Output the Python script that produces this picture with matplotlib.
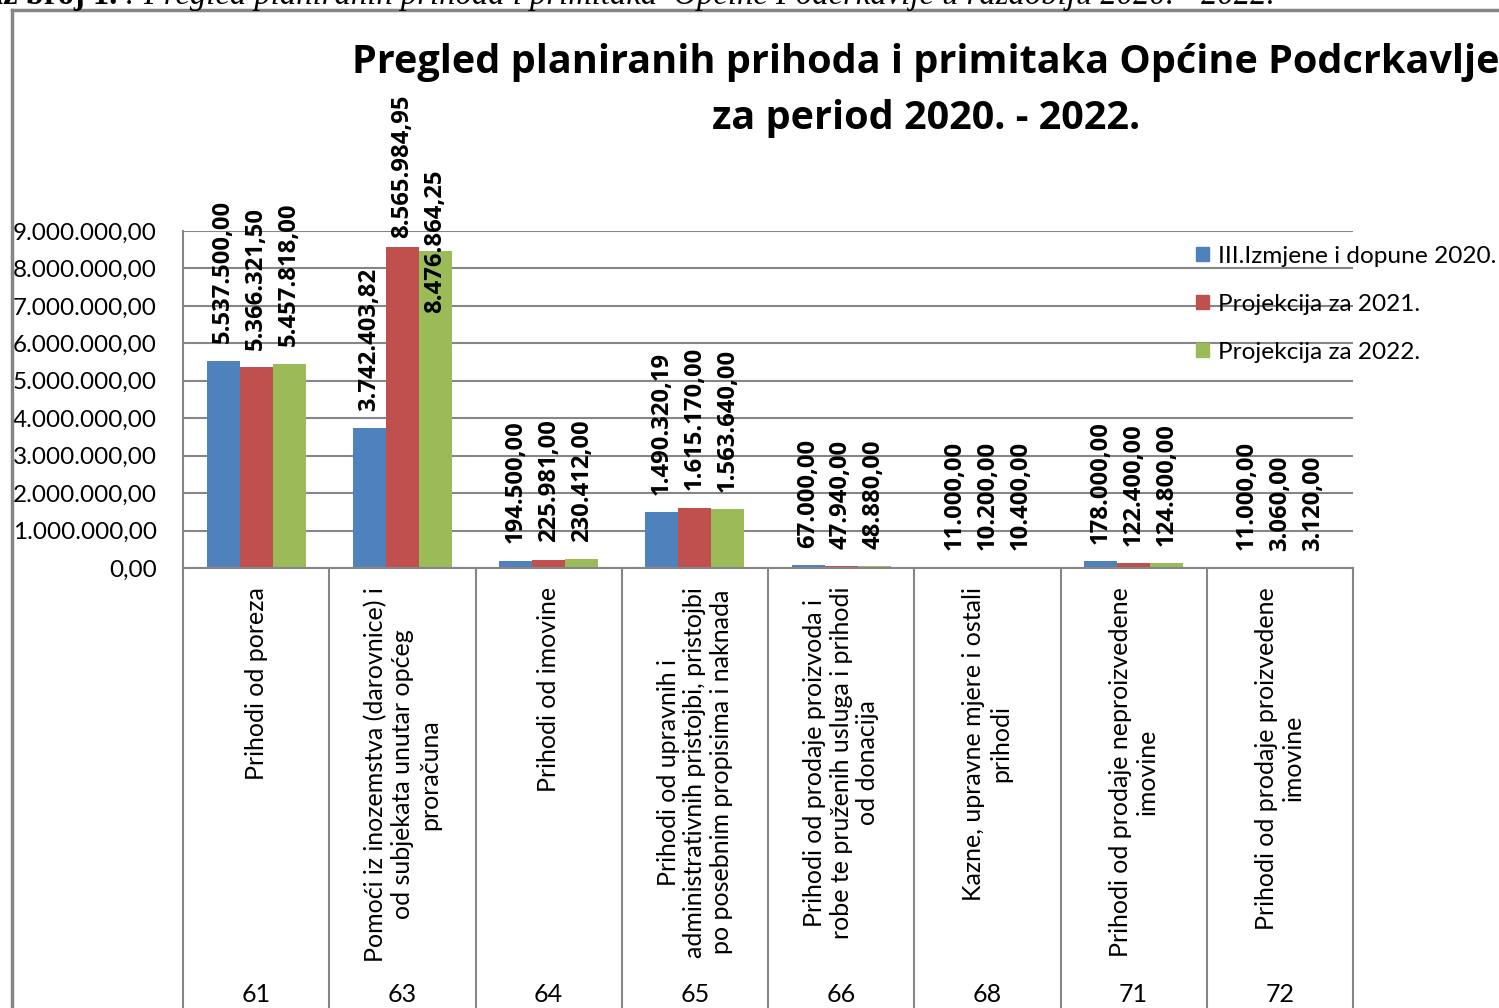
import numpy as np
import matplotlib
matplotlib.use("Agg")
import matplotlib.pyplot as plt
from matplotlib.patches import Patch
from matplotlib.ticker import FuncFormatter

# Data

codes = ["61", "63", "64", "65", "66", "68", "71", "72"]
categories = [
    "Prihodi od poreza",
    "Pomoći iz inozemstva (darovnice) i\nod subjekata unutar općeg\nproračuna",
    "Prihodi od imovine",
    "Prihodi od upravnih i\nadministrativnih pristojbi, pristojbi\npo posebnim propisima i naknada",
    "Prihodi od prodaje proizvoda i\nrobe te pruženih usluga i prihodi\nod donacija",
    "Kazne, upravne mjere i ostali\nprihodi",
    "Prihodi od prodaje neproizvedene\nimovine",
    "Prihodi od prodaje proizvedene\nimovine",
]
series_names = ["III.Izmjene i dopune 2020.", "Projekcija za 2021.", "Projekcija za 2022."]
plan_2020 = [5537500.00, 3742403.82, 194500.00, 1490320.19, 67000.00, 11000.00, 178000.00, 11000.00]
proj_2021 = [5366321.50, 8565984.95, 225981.00, 1615170.00, 47940.00, 10200.00, 122400.00, 3060.00]
proj_2022 = [5457818.00, 8476864.25, 230412.00, 1563640.00, 48880.00, 10400.00, 124800.00, 3120.00]
yticks = np.arange(0, 9000001, 1000000)

colors = ["#4F81BD", "#C0504D", "#9BBB59"]
grid_c = "#868686"
bold_font = ["Open Sans", "DejaVu Sans"]

plt.rcParams['font.family'] = ['Lato', 'DejaVu Sans']


def hr_fmt(v):
    # Croatian number format: 1.234.567,89
    s = f"{v:,.2f}"
    return s.replace(",", "X").replace(".", ",").replace("X", ".")


fig = plt.figure(figsize=(14.99, 10.08), dpi=100)
W, H = 1499, 1008
ax = fig.add_axes([183 / W, (H - 568) / H, (1353 - 183) / W, (568 - 231) / H])

x = np.arange(len(categories))
bw = 0.2256
all_series = [plan_2020, proj_2021, proj_2022]

# label offsets in points (two labels were moved by hand in the original)
label_offset = {(1, 1): 7, (2, 1): -45}

for i, vals in enumerate(all_series):
    xs = x + (i - 1) * bw
    ax.bar(xs, vals, width=bw, color=colors[i], label=series_names[i], zorder=3)
    for j, (xx, v) in enumerate(zip(xs, vals)):
        off = label_offset.get((i, j), 12.5)
        ax.annotate(hr_fmt(v), (xx, v), xytext=(0, off), textcoords="offset points",
                    rotation=90, ha="center", va="bottom", fontsize=17.2,
                    fontweight="bold", family=bold_font, zorder=5, annotation_clip=False)

ax.set_xlim(-0.5, len(categories) - 0.5)
ax.set_ylim(0, 9000000)
ax.set_yticks(yticks)
ax.yaxis.set_major_formatter(FuncFormatter(lambda v, p: hr_fmt(v)))
ax.tick_params(axis="y", length=0, pad=19, labelsize=17.5)
ax.set_xticks([])
ax.grid(axis="y", color=grid_c, linewidth=1.5, zorder=0)
for side in ["top", "right", "bottom"]:
    ax.spines[side].set_visible(False)
ax.spines["left"].set_color(grid_c)
ax.spines["left"].set_linewidth(1.5)

# category table below the axis
tr = ax.get_xaxis_transform()
ax.plot([-0.5, len(categories) - 0.5], [0, 0], color=grid_c, lw=1.5,
        transform=tr, clip_on=False, zorder=4)
for b in np.arange(len(categories) + 1) - 0.5:
    ax.plot([b, b], [0, -1.4], color=grid_c, lw=1.5, transform=tr, clip_on=False)
for j, (lab, code) in enumerate(zip(categories, codes)):
    ax.text(j, -0.056, lab, transform=tr, rotation=90, ha="center", va="top",
            multialignment="center", fontsize=18, linespacing=1.2)
    ax.text(j, -1.267, code, transform=tr, ha="center", va="center", fontsize=18)

# legend without frame, drawn over the gridlines
handles = [Patch(color=c, label=n) for c, n in zip(colors, series_names)]
fig.legend(handles=handles, loc="upper left", bbox_to_anchor=(1186 / W, 1 - 236 / H),
           frameon=False, fontsize=17.6, handlelength=0.55, handleheight=0.55,
           handletextpad=0.35, labelspacing=1.1, borderaxespad=0)

# title
fig.text(926 / W, 1 - 63 / H, "Pregled planiranih prihoda i primitaka Općine Podcrkavlje",
         ha="center", va="center", fontsize=28.5, fontweight="bold", family=bold_font)
fig.text(926 / W, 1 - 119 / H, "za period 2020. - 2022.",
         ha="center", va="center", fontsize=28.5, fontweight="bold", family=bold_font)

# chart frame (only top and left edges are inside the image)
fig.add_artist(plt.Line2D([12 / W, 12 / W], [0, 1 - 10 / H], color=grid_c, lw=2.5))
fig.add_artist(plt.Line2D([12 / W, 1], [1 - 10 / H, 1 - 10 / H], color=grid_c, lw=2.5))

# caption of the document, cut off at the top edge
fig.text(125 / W, 1 - 4 / H, "Prikaz broj 1. ", ha="right", va="baseline",
         fontsize=23.5, fontweight="bold", family="Liberation Serif")
fig.text(125 / W, 1 - 4 / H,
         ": Pregled planiranih prihoda i primitaka  Općine Podcrkavlje u razdoblju 2020. - 2022.",
         ha="left", va="baseline", fontsize=23.5, style="italic", family="Liberation Serif")

fig.savefig("out.png", dpi=100)
